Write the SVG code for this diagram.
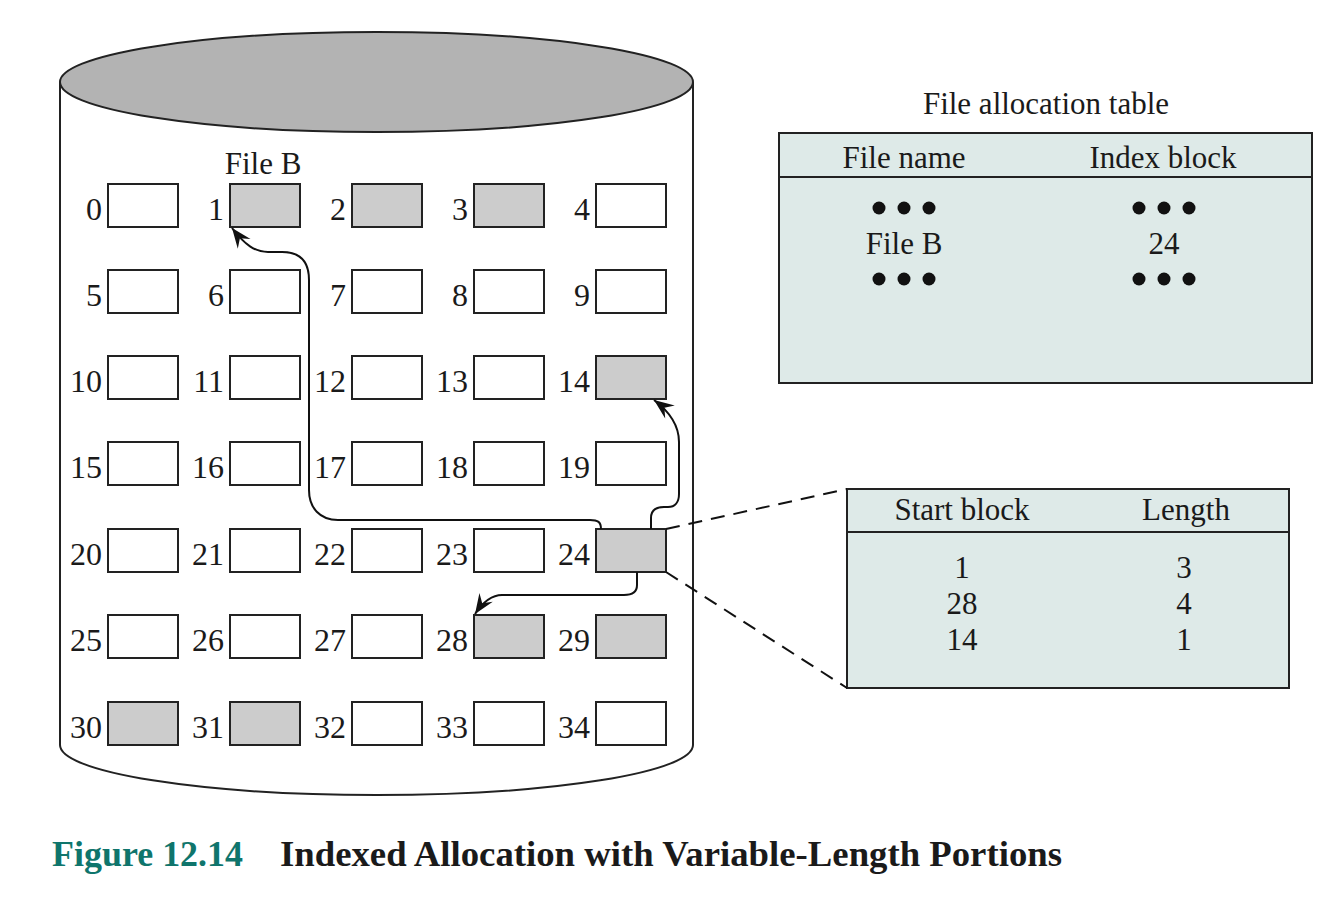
<svg xmlns="http://www.w3.org/2000/svg" width="1338" height="924" viewBox="0 0 1338 924">
<style>
  text { font-family: "Liberation Serif", "Times New Roman", serif; fill: #1a1a1a; }
  .lbl { font-size: 32px; text-anchor: end; }
  .t { font-size: 31px; text-anchor: middle; }
  .blk { fill: #ffffff; stroke: #222; stroke-width: 2; }
  .sh { fill: #cccccc; }
  .tbl { fill: #deeae8; stroke: #222; stroke-width: 2; }
  .conn { fill: none; stroke: #111; stroke-width: 2; }
  .dash { fill: none; stroke: #111; stroke-width: 2; stroke-dasharray: 14 9; }
  .dot { fill: #111; }
</style>
<defs>
  <marker id="arr" markerUnits="userSpaceOnUse" markerWidth="26" markerHeight="22" viewBox="-22 -11 26 22" refX="0" refY="0" orient="auto">
    <path d="M0,0 L-20,-8 L-13,0 L-20,8 Z" fill="#111"/>
  </marker>
</defs>
<rect width="1338" height="924" fill="#ffffff"/>

<g id="disk">
  <path d="M60,82 L60,745 A316.5,50 0 0 0 693,745 L693,82" fill="#ffffff" stroke="#222" stroke-width="2"/>
  <ellipse cx="376.5" cy="82" rx="316.5" ry="50" fill="#b3b3b3" stroke="#222" stroke-width="2"/>
  <text class="t" x="263" y="174">File B</text>
</g>

<g id="blocks">
  <g id="b0"><rect class="blk" x="108" y="184" width="70" height="43"/><text class="lbl" x="102" y="220">0</text></g>
  <g id="b1"><rect class="blk sh" x="230" y="184" width="70" height="43"/><text class="lbl" x="224" y="220">1</text></g>
  <g id="b2"><rect class="blk sh" x="352" y="184" width="70" height="43"/><text class="lbl" x="346" y="220">2</text></g>
  <g id="b3"><rect class="blk sh" x="474" y="184" width="70" height="43"/><text class="lbl" x="468" y="220">3</text></g>
  <g id="b4"><rect class="blk" x="596" y="184" width="70" height="43"/><text class="lbl" x="590" y="220">4</text></g>

  <g id="b5"><rect class="blk" x="108" y="270" width="70" height="43"/><text class="lbl" x="102" y="306">5</text></g>
  <g id="b6"><rect class="blk" x="230" y="270" width="70" height="43"/><text class="lbl" x="224" y="306">6</text></g>
  <g id="b7"><rect class="blk" x="352" y="270" width="70" height="43"/><text class="lbl" x="346" y="306">7</text></g>
  <g id="b8"><rect class="blk" x="474" y="270" width="70" height="43"/><text class="lbl" x="468" y="306">8</text></g>
  <g id="b9"><rect class="blk" x="596" y="270" width="70" height="43"/><text class="lbl" x="590" y="306">9</text></g>

  <g id="b10"><rect class="blk" x="108" y="356" width="70" height="43"/><text class="lbl" x="102" y="392">10</text></g>
  <g id="b11"><rect class="blk" x="230" y="356" width="70" height="43"/><text class="lbl" x="224" y="392">11</text></g>
  <g id="b12"><rect class="blk" x="352" y="356" width="70" height="43"/><text class="lbl" x="346" y="392">12</text></g>
  <g id="b13"><rect class="blk" x="474" y="356" width="70" height="43"/><text class="lbl" x="468" y="392">13</text></g>
  <g id="b14"><rect class="blk sh" x="596" y="356" width="70" height="43"/><text class="lbl" x="590" y="392">14</text></g>

  <g id="b15"><rect class="blk" x="108" y="442" width="70" height="43"/><text class="lbl" x="102" y="478">15</text></g>
  <g id="b16"><rect class="blk" x="230" y="442" width="70" height="43"/><text class="lbl" x="224" y="478">16</text></g>
  <g id="b17"><rect class="blk" x="352" y="442" width="70" height="43"/><text class="lbl" x="346" y="478">17</text></g>
  <g id="b18"><rect class="blk" x="474" y="442" width="70" height="43"/><text class="lbl" x="468" y="478">18</text></g>
  <g id="b19"><rect class="blk" x="596" y="442" width="70" height="43"/><text class="lbl" x="590" y="478">19</text></g>

  <g id="b20"><rect class="blk" x="108" y="529" width="70" height="43"/><text class="lbl" x="102" y="565">20</text></g>
  <g id="b21"><rect class="blk" x="230" y="529" width="70" height="43"/><text class="lbl" x="224" y="565">21</text></g>
  <g id="b22"><rect class="blk" x="352" y="529" width="70" height="43"/><text class="lbl" x="346" y="565">22</text></g>
  <g id="b23"><rect class="blk" x="474" y="529" width="70" height="43"/><text class="lbl" x="468" y="565">23</text></g>
  <g id="b24"><rect class="blk sh" x="596" y="529" width="70" height="43"/><text class="lbl" x="590" y="565">24</text></g>

  <g id="b25"><rect class="blk" x="108" y="615" width="70" height="43"/><text class="lbl" x="102" y="651">25</text></g>
  <g id="b26"><rect class="blk" x="230" y="615" width="70" height="43"/><text class="lbl" x="224" y="651">26</text></g>
  <g id="b27"><rect class="blk" x="352" y="615" width="70" height="43"/><text class="lbl" x="346" y="651">27</text></g>
  <g id="b28"><rect class="blk sh" x="474" y="615" width="70" height="43"/><text class="lbl" x="468" y="651">28</text></g>
  <g id="b29"><rect class="blk sh" x="596" y="615" width="70" height="43"/><text class="lbl" x="590" y="651">29</text></g>

  <g id="b30"><rect class="blk sh" x="108" y="702" width="70" height="43"/><text class="lbl" x="102" y="738">30</text></g>
  <g id="b31"><rect class="blk sh" x="230" y="702" width="70" height="43"/><text class="lbl" x="224" y="738">31</text></g>
  <g id="b32"><rect class="blk" x="352" y="702" width="70" height="43"/><text class="lbl" x="346" y="738">32</text></g>
  <g id="b33"><rect class="blk" x="474" y="702" width="70" height="43"/><text class="lbl" x="468" y="738">33</text></g>
  <g id="b34"><rect class="blk" x="596" y="702" width="70" height="43"/><text class="lbl" x="590" y="738">34</text></g>
</g>

<g id="fat">
  <text class="t" x="1046" y="114">File allocation table</text>
  <rect class="tbl" x="779" y="133" width="533" height="250"/>
  <line x1="779" y1="177" x2="1312" y2="177" stroke="#222" stroke-width="2"/>
  <text class="t" x="904" y="168">File name</text>
  <text class="t" x="1163" y="168">Index block</text>
  <circle class="dot" cx="879" cy="208" r="6.5"/><circle class="dot" cx="904" cy="208" r="6.5"/><circle class="dot" cx="929" cy="208" r="6.5"/>
  <circle class="dot" cx="1139" cy="208" r="6.5"/><circle class="dot" cx="1164" cy="208" r="6.5"/><circle class="dot" cx="1189" cy="208" r="6.5"/>
  <text class="t" x="904" y="254">File B</text>
  <text class="t" x="1164" y="254">24</text>
  <circle class="dot" cx="879" cy="279" r="6.5"/><circle class="dot" cx="904" cy="279" r="6.5"/><circle class="dot" cx="929" cy="279" r="6.5"/>
  <circle class="dot" cx="1139" cy="279" r="6.5"/><circle class="dot" cx="1164" cy="279" r="6.5"/><circle class="dot" cx="1189" cy="279" r="6.5"/>
</g>

<g id="index-block">
  <rect class="tbl" x="847" y="489" width="442" height="199"/>
  <line x1="847" y1="532" x2="1289" y2="532" stroke="#222" stroke-width="2"/>
  <text class="t" x="962" y="520">Start block</text>
  <text class="t" x="1186" y="520">Length</text>
  <text class="t" x="962" y="578">1</text>
  <text class="t" x="1184" y="578">3</text>
  <text class="t" x="962" y="614">28</text>
  <text class="t" x="1184" y="614">4</text>
  <text class="t" x="962" y="650">14</text>
  <text class="t" x="1184" y="650">1</text>
</g>

<g id="connectors">
  <path class="conn" marker-end="url(#arr)" d="M601,529 C601,522 598,520 590,520 L338,520 C320,520 309,508 309,490 L309,280 C309,262 300,252 282,252 L268,252 C255,252 245,245 232,228"/>
  <path class="conn" marker-end="url(#arr)" d="M651,529 L651,518 C651,510 656,507 664,507 L668,507 C675,507 679,502 679,494 L679,442 C679,426 670,412 654,400"/>
  <path class="conn" marker-end="url(#arr)" d="M637,572 L637,585 C637,592 632,595 624,595 L502,595 C492,595 483,602 475,614"/>
  <path class="dash" d="M666,529 L847,489"/>
  <path class="dash" d="M666,572 L847,688"/>
</g>

<g id="caption">
  <text x="52" y="866" style="font-size:36px;font-weight:bold;fill:#0f756c" textLength="191" lengthAdjust="spacingAndGlyphs">Figure 12.14</text>
  <text x="280" y="866" style="font-size:36px;font-weight:bold;fill:#1a1a1a" textLength="782" lengthAdjust="spacingAndGlyphs">Indexed Allocation with Variable-Length Portions</text>
</g>
</svg>
